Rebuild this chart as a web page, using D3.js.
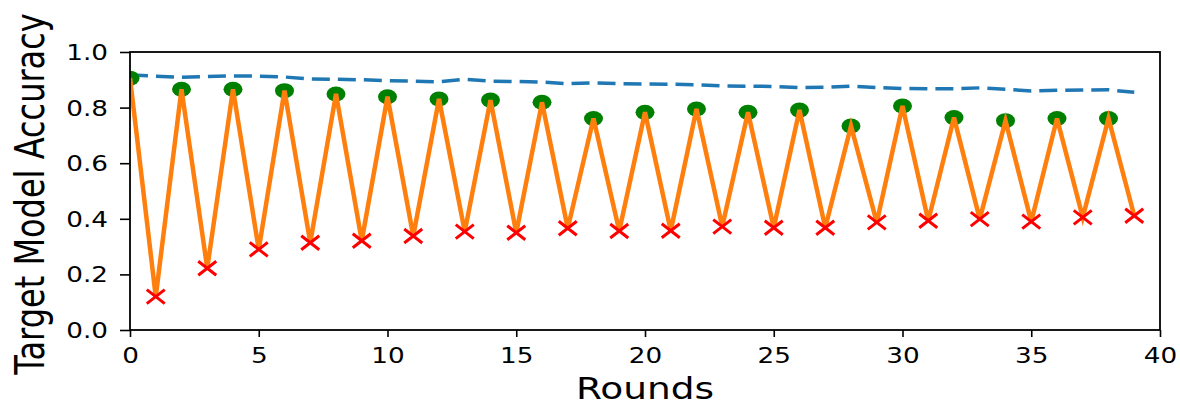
<!DOCTYPE html>
<html>
<head>
<meta charset="utf-8">
<script src="https://cdn.jsdelivr.net/npm/d3@7"></script>
<style>
  body { margin: 0; background: #fff; }
  text { font-family: "DejaVu Sans", sans-serif; }
</style>
</head>
<body>
<svg id="my_viz"></svg>
<script>
// Data
var rounds = [0,1,2,3,4,5,6,7,8,9,10,11,12,13,14,15,16,17,18,19,
              20,21,22,23,24,25,26,27,28,29,30,31,32,33,34,35,36,37,38,39];
// blue dashed line, one value per round
var baselineAcc = [0.917,0.913,0.909,0.912,0.914,0.913,0.910,0.903,0.902,0.900,
                   0.897,0.895,0.893,0.902,0.895,0.894,0.892,0.886,0.889,0.886,
                   0.885,0.884,0.882,0.878,0.877,0.876,0.872,0.873,0.877,0.872,
                   0.869,0.868,0.868,0.871,0.866,0.860,0.862,0.863,0.864,0.855];
// green dots, even rounds
var evenRounds = [0,2,4,6,8,10,12,14,16,18,20,22,24,26,28,30,32,34,36,38];
var cleanAcc = [0.906,0.866,0.866,0.861,0.849,0.839,0.831,0.827,0.819,0.761,
                0.783,0.795,0.783,0.791,0.734,0.806,0.764,0.753,0.761,0.761];
// red crosses, odd rounds
var oddRounds = [1,3,5,7,9,11,13,15,17,19,21,23,25,27,29,31,33,35,37,39];
var attackedAcc = [0.120,0.222,0.290,0.314,0.321,0.338,0.354,0.350,0.366,0.356,
                   0.357,0.372,0.368,0.368,0.387,0.393,0.399,0.390,0.405,0.411];
var xTicks = [0,5,10,15,20,25,30,35,40];
var yTicks = [0.0,0.2,0.4,0.6,0.8,1.0];

var svg_width = 1180, svg_height = 405;
var margin = {top: 52, right: 20, bottom: 75, left: 130};
var plot_width = svg_width - margin.left - margin.right,
    plot_height = svg_height - margin.top - margin.bottom;
var sx = 1.25; // picture is stretched horizontally

var svg = d3.select("#my_viz")
  .attr("width", svg_width)
  .attr("height", svg_height);

var g = svg.append("g")
  .attr("transform", "translate(" + margin.left + "," + margin.top + ")");

var x = d3.scaleLinear().domain([0, 40]).range([0, plot_width]);
var y = d3.scaleLinear().domain([0, 1]).range([plot_height, 0]);

svg.append("defs").append("clipPath").attr("id", "clip")
  .append("rect").attr("width", plot_width).attr("height", plot_height);

var plot = g.append("g").attr("clip-path", "url(#clip)");

// Blue dashed
plot.append("path")
  .datum(rounds)
  .attr("fill", "none")
  .attr("stroke", "#1f77b4")
  .attr("stroke-width", 3.5)
  .attr("stroke-dasharray", "18,8")
  .attr("d", d3.line().x(d => x(d)).y((d, i) => y(baselineAcc[i])));

// Green dots
plot.selectAll(".clean")
  .data(evenRounds)
  .enter()
  .append("ellipse")
  .attr("cx", d => x(d))
  .attr("cy", (d, i) => y(cleanAcc[i]))
  .attr("rx", 9.5)
  .attr("ry", 7.5)
  .attr("fill", "#008000");

// Orange zigzag joining both series
var zig = rounds.map(r => r % 2 === 0 ? cleanAcc[evenRounds.indexOf(r)] : attackedAcc[oddRounds.indexOf(r)]);
plot.append("path")
  .datum(rounds)
  .attr("fill", "none")
  .attr("stroke", "#ff7f0e")
  .attr("stroke-width", 4.5)
  .attr("stroke-linejoin", "miter")
  .attr("d", d3.line().x(d => x(d)).y((d, i) => y(zig[i])));

// Red crosses
plot.selectAll(".attacked")
  .data(oddRounds)
  .enter()
  .append("path")
  .attr("transform", (d, i) => "translate(" + x(d) + "," + y(attackedAcc[i]) + ")")
  .attr("d", "M-9,-7L9,7M-9,7L9,-7")
  .attr("stroke", "#ff0000")
  .attr("stroke-width", 3)
  .attr("fill", "none");

// Axes
var xAxis = g.append("g")
  .attr("transform", "translate(0," + plot_height + ")")
  .call(d3.axisBottom(x).tickValues(xTicks).tickFormat(d3.format("d")).tickSize(7).tickSizeOuter(0));
xAxis.selectAll("text")
  .attr("y", 18)
  .attr("transform", "scale(" + sx + ",1)")
  .style("font-size", "21px")
  .attr("fill", "#000");

var yAxis = g.append("g")
  .call(d3.axisLeft(y).tickValues(yTicks).tickFormat(d3.format(".1f")).tickSize(10).tickSizeOuter(0));
yAxis.selectAll("text")
  .attr("x", -22 / sx)
  .attr("dy", "0.36em")
  .attr("transform", "scale(" + sx + ",1)")
  .style("font-size", "21px")
  .attr("fill", "#000");

[xAxis, yAxis].forEach(a => {
  a.select(".domain").remove();
  a.selectAll("line").attr("stroke", "#000").attr("stroke-width", 1.6);
});

// Frame
g.append("rect")
  .attr("width", plot_width)
  .attr("height", plot_height)
  .attr("fill", "none")
  .attr("stroke", "#000")
  .attr("stroke-width", 1.8);

// Axis labels
svg.append("text")
  .text("Rounds")
  .attr("transform", "translate(" + (margin.left + x(20)) + ",399) scale(" + sx + ",1)")
  .attr("text-anchor", "middle")
  .style("font-size", "30px")
  .attr("fill", "#000");

svg.append("text")
  .text("Target Model Accuracy")
  .attr("transform", "translate(44," + (margin.top + plot_height / 2 + 3) + ") scale(" + sx + ",1) rotate(-90)")
  .attr("text-anchor", "middle")
  .style("font-size", "32px")
  .attr("fill", "#000");
</script>
</body>
</html>
